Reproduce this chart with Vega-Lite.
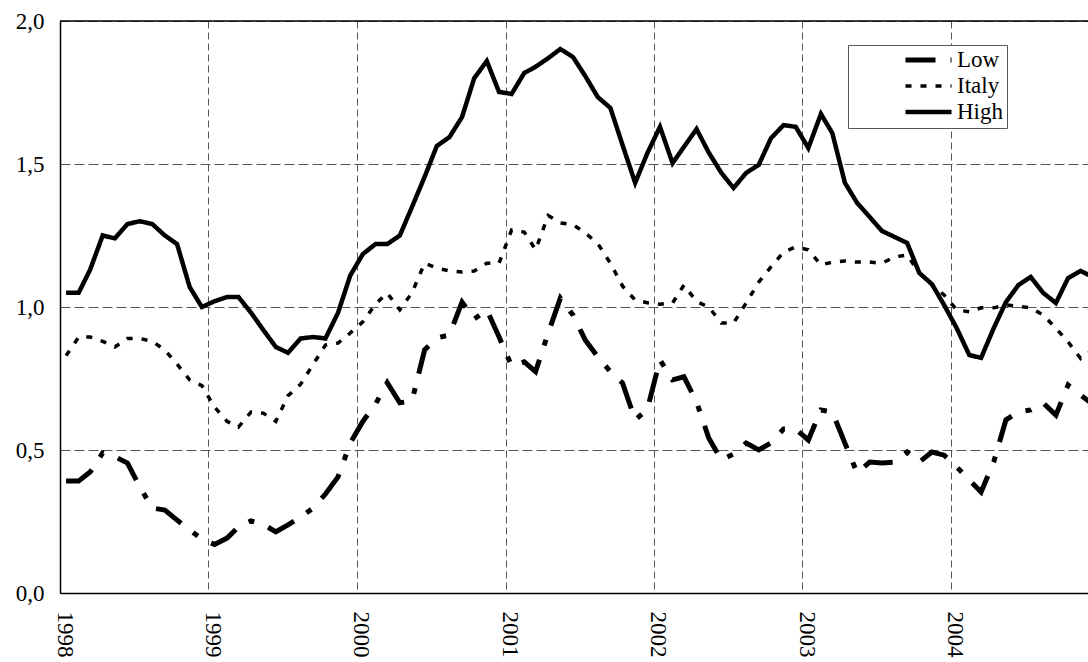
{
  "$schema": "https://vega.github.io/schema/vega-lite/v6.json",
  "width": 1028,
  "height": 572,
  "autosize": {"type": "none"},
  "padding": {"left": 60, "top": 21, "right": 0, "bottom": 69},
  "background": "white",
  "config": {
    "font": "Liberation Serif, Times New Roman, serif",
    "view": {"stroke": null},
    "axis": {"labelFont": "Liberation Serif, Times New Roman, serif", "labelFontSize": 23, "labelColor": "black"},
    "legend": {"labelFont": "Liberation Serif, Times New Roman, serif", "labelFontSize": 23, "labelColor": "black"}
  },
  "data": {
    "values": [
      {"d": "1998-01-16T00:00", "s": "Low", "v": 0.392},
      {"d": "1998-02-16T00:00", "s": "Low", "v": 0.392},
      {"d": "1998-03-16T00:00", "s": "Low", "v": 0.423},
      {"d": "1998-04-16T00:00", "s": "Low", "v": 0.49},
      {"d": "1998-05-16T00:00", "s": "Low", "v": 0.477},
      {"d": "1998-06-16T00:00", "s": "Low", "v": 0.454},
      {"d": "1998-07-16T00:00", "s": "Low", "v": 0.372},
      {"d": "1998-08-16T00:00", "s": "Low", "v": 0.297},
      {"d": "1998-09-16T00:00", "s": "Low", "v": 0.29},
      {"d": "1998-10-16T00:00", "s": "Low", "v": 0.255},
      {"d": "1998-11-16T00:00", "s": "Low", "v": 0.22},
      {"d": "1998-12-16T00:00", "s": "Low", "v": 0.189},
      {"d": "1999-01-16T00:00", "s": "Low", "v": 0.17},
      {"d": "1999-02-16T00:00", "s": "Low", "v": 0.192},
      {"d": "1999-03-16T00:00", "s": "Low", "v": 0.231},
      {"d": "1999-04-16T00:00", "s": "Low", "v": 0.252},
      {"d": "1999-05-16T00:00", "s": "Low", "v": 0.24},
      {"d": "1999-06-16T00:00", "s": "Low", "v": 0.214},
      {"d": "1999-07-16T00:00", "s": "Low", "v": 0.238},
      {"d": "1999-08-16T00:00", "s": "Low", "v": 0.266},
      {"d": "1999-09-16T00:00", "s": "Low", "v": 0.297},
      {"d": "1999-10-16T00:00", "s": "Low", "v": 0.346},
      {"d": "1999-11-16T00:00", "s": "Low", "v": 0.406},
      {"d": "1999-12-16T00:00", "s": "Low", "v": 0.524},
      {"d": "2000-01-16T00:00", "s": "Low", "v": 0.6},
      {"d": "2000-02-16T00:00", "s": "Low", "v": 0.66},
      {"d": "2000-03-16T00:00", "s": "Low", "v": 0.735},
      {"d": "2000-04-16T00:00", "s": "Low", "v": 0.665},
      {"d": "2000-05-16T00:00", "s": "Low", "v": 0.672},
      {"d": "2000-06-16T00:00", "s": "Low", "v": 0.85},
      {"d": "2000-07-16T00:00", "s": "Low", "v": 0.892},
      {"d": "2000-08-16T00:00", "s": "Low", "v": 0.902},
      {"d": "2000-09-16T00:00", "s": "Low", "v": 1.017},
      {"d": "2000-10-16T00:00", "s": "Low", "v": 0.958},
      {"d": "2000-11-16T00:00", "s": "Low", "v": 0.99},
      {"d": "2000-12-16T00:00", "s": "Low", "v": 0.896},
      {"d": "2001-01-16T00:00", "s": "Low", "v": 0.794},
      {"d": "2001-02-16T00:00", "s": "Low", "v": 0.808},
      {"d": "2001-03-16T00:00", "s": "Low", "v": 0.774},
      {"d": "2001-04-16T00:00", "s": "Low", "v": 0.909},
      {"d": "2001-05-16T00:00", "s": "Low", "v": 1.031},
      {"d": "2001-06-16T00:00", "s": "Low", "v": 0.972},
      {"d": "2001-07-16T00:00", "s": "Low", "v": 0.885},
      {"d": "2001-08-16T00:00", "s": "Low", "v": 0.826},
      {"d": "2001-09-16T00:00", "s": "Low", "v": 0.774},
      {"d": "2001-10-16T00:00", "s": "Low", "v": 0.734},
      {"d": "2001-11-16T00:00", "s": "Low", "v": 0.605},
      {"d": "2001-12-16T00:00", "s": "Low", "v": 0.643},
      {"d": "2002-01-16T00:00", "s": "Low", "v": 0.815},
      {"d": "2002-02-16T00:00", "s": "Low", "v": 0.745},
      {"d": "2002-03-16T00:00", "s": "Low", "v": 0.756},
      {"d": "2002-04-16T00:00", "s": "Low", "v": 0.668},
      {"d": "2002-05-16T00:00", "s": "Low", "v": 0.542},
      {"d": "2002-06-16T00:00", "s": "Low", "v": 0.465},
      {"d": "2002-07-16T00:00", "s": "Low", "v": 0.486},
      {"d": "2002-08-16T00:00", "s": "Low", "v": 0.524},
      {"d": "2002-09-16T00:00", "s": "Low", "v": 0.5},
      {"d": "2002-10-16T00:00", "s": "Low", "v": 0.525},
      {"d": "2002-11-16T00:00", "s": "Low", "v": 0.573},
      {"d": "2002-12-16T00:00", "s": "Low", "v": 0.573},
      {"d": "2003-01-16T00:00", "s": "Low", "v": 0.535},
      {"d": "2003-02-16T00:00", "s": "Low", "v": 0.64},
      {"d": "2003-03-16T00:00", "s": "Low", "v": 0.633},
      {"d": "2003-04-16T00:00", "s": "Low", "v": 0.524},
      {"d": "2003-05-16T00:00", "s": "Low", "v": 0.42},
      {"d": "2003-06-16T00:00", "s": "Low", "v": 0.458},
      {"d": "2003-07-16T00:00", "s": "Low", "v": 0.455},
      {"d": "2003-08-16T00:00", "s": "Low", "v": 0.458},
      {"d": "2003-09-16T00:00", "s": "Low", "v": 0.493},
      {"d": "2003-10-16T00:00", "s": "Low", "v": 0.458},
      {"d": "2003-11-16T00:00", "s": "Low", "v": 0.493},
      {"d": "2003-12-16T00:00", "s": "Low", "v": 0.482},
      {"d": "2004-01-16T00:00", "s": "Low", "v": 0.441},
      {"d": "2004-02-16T00:00", "s": "Low", "v": 0.395},
      {"d": "2004-03-16T00:00", "s": "Low", "v": 0.353},
      {"d": "2004-04-16T00:00", "s": "Low", "v": 0.458},
      {"d": "2004-05-16T00:00", "s": "Low", "v": 0.605},
      {"d": "2004-06-16T00:00", "s": "Low", "v": 0.633},
      {"d": "2004-07-16T00:00", "s": "Low", "v": 0.64},
      {"d": "2004-08-16T00:00", "s": "Low", "v": 0.664},
      {"d": "2004-09-16T00:00", "s": "Low", "v": 0.622},
      {"d": "2004-10-16T00:00", "s": "Low", "v": 0.727},
      {"d": "2004-11-16T00:00", "s": "Low", "v": 0.692},
      {"d": "2004-12-16T00:00", "s": "Low", "v": 0.66},
      {"d": "1998-01-16T00:00", "s": "Italy", "v": 0.83},
      {"d": "1998-02-16T00:00", "s": "Italy", "v": 0.895},
      {"d": "1998-03-16T00:00", "s": "Italy", "v": 0.895},
      {"d": "1998-04-16T00:00", "s": "Italy", "v": 0.88},
      {"d": "1998-05-16T00:00", "s": "Italy", "v": 0.86},
      {"d": "1998-06-16T00:00", "s": "Italy", "v": 0.89},
      {"d": "1998-07-16T00:00", "s": "Italy", "v": 0.89},
      {"d": "1998-08-16T00:00", "s": "Italy", "v": 0.88},
      {"d": "1998-09-16T00:00", "s": "Italy", "v": 0.85},
      {"d": "1998-10-16T00:00", "s": "Italy", "v": 0.8},
      {"d": "1998-11-16T00:00", "s": "Italy", "v": 0.745},
      {"d": "1998-12-16T00:00", "s": "Italy", "v": 0.725},
      {"d": "1999-01-16T00:00", "s": "Italy", "v": 0.65},
      {"d": "1999-02-16T00:00", "s": "Italy", "v": 0.6},
      {"d": "1999-03-16T00:00", "s": "Italy", "v": 0.58},
      {"d": "1999-04-16T00:00", "s": "Italy", "v": 0.633},
      {"d": "1999-05-16T00:00", "s": "Italy", "v": 0.629},
      {"d": "1999-06-16T00:00", "s": "Italy", "v": 0.6},
      {"d": "1999-07-16T00:00", "s": "Italy", "v": 0.69},
      {"d": "1999-08-16T00:00", "s": "Italy", "v": 0.73},
      {"d": "1999-09-16T00:00", "s": "Italy", "v": 0.8},
      {"d": "1999-10-16T00:00", "s": "Italy", "v": 0.867},
      {"d": "1999-11-16T00:00", "s": "Italy", "v": 0.874},
      {"d": "1999-12-16T00:00", "s": "Italy", "v": 0.909},
      {"d": "2000-01-16T00:00", "s": "Italy", "v": 0.948},
      {"d": "2000-02-16T00:00", "s": "Italy", "v": 1.01},
      {"d": "2000-03-16T00:00", "s": "Italy", "v": 1.049},
      {"d": "2000-04-16T00:00", "s": "Italy", "v": 0.99},
      {"d": "2000-05-16T00:00", "s": "Italy", "v": 1.05},
      {"d": "2000-06-16T00:00", "s": "Italy", "v": 1.153},
      {"d": "2000-07-16T00:00", "s": "Italy", "v": 1.136},
      {"d": "2000-08-16T00:00", "s": "Italy", "v": 1.126},
      {"d": "2000-09-16T00:00", "s": "Italy", "v": 1.122},
      {"d": "2000-10-16T00:00", "s": "Italy", "v": 1.126},
      {"d": "2000-11-16T00:00", "s": "Italy", "v": 1.153},
      {"d": "2000-12-16T00:00", "s": "Italy", "v": 1.153},
      {"d": "2001-01-16T00:00", "s": "Italy", "v": 1.269},
      {"d": "2001-02-16T00:00", "s": "Italy", "v": 1.262},
      {"d": "2001-03-16T00:00", "s": "Italy", "v": 1.2},
      {"d": "2001-04-16T00:00", "s": "Italy", "v": 1.32},
      {"d": "2001-05-16T00:00", "s": "Italy", "v": 1.294},
      {"d": "2001-06-16T00:00", "s": "Italy", "v": 1.288},
      {"d": "2001-07-16T00:00", "s": "Italy", "v": 1.259},
      {"d": "2001-08-16T00:00", "s": "Italy", "v": 1.222},
      {"d": "2001-09-16T00:00", "s": "Italy", "v": 1.153},
      {"d": "2001-10-16T00:00", "s": "Italy", "v": 1.073},
      {"d": "2001-11-16T00:00", "s": "Italy", "v": 1.024},
      {"d": "2001-12-16T00:00", "s": "Italy", "v": 1.015},
      {"d": "2002-01-16T00:00", "s": "Italy", "v": 1.01},
      {"d": "2002-02-16T00:00", "s": "Italy", "v": 1.014},
      {"d": "2002-03-16T00:00", "s": "Italy", "v": 1.077},
      {"d": "2002-04-16T00:00", "s": "Italy", "v": 1.019},
      {"d": "2002-05-16T00:00", "s": "Italy", "v": 1.0},
      {"d": "2002-06-16T00:00", "s": "Italy", "v": 0.944},
      {"d": "2002-07-16T00:00", "s": "Italy", "v": 0.944},
      {"d": "2002-08-16T00:00", "s": "Italy", "v": 1.014},
      {"d": "2002-09-16T00:00", "s": "Italy", "v": 1.087},
      {"d": "2002-10-16T00:00", "s": "Italy", "v": 1.14},
      {"d": "2002-11-16T00:00", "s": "Italy", "v": 1.192},
      {"d": "2002-12-16T00:00", "s": "Italy", "v": 1.21},
      {"d": "2003-01-16T00:00", "s": "Italy", "v": 1.2},
      {"d": "2003-02-16T00:00", "s": "Italy", "v": 1.147},
      {"d": "2003-03-16T00:00", "s": "Italy", "v": 1.157},
      {"d": "2003-04-16T00:00", "s": "Italy", "v": 1.161},
      {"d": "2003-05-16T00:00", "s": "Italy", "v": 1.157},
      {"d": "2003-06-16T00:00", "s": "Italy", "v": 1.157},
      {"d": "2003-07-16T00:00", "s": "Italy", "v": 1.153},
      {"d": "2003-08-16T00:00", "s": "Italy", "v": 1.175},
      {"d": "2003-09-16T00:00", "s": "Italy", "v": 1.182},
      {"d": "2003-10-16T00:00", "s": "Italy", "v": 1.119},
      {"d": "2003-11-16T00:00", "s": "Italy", "v": 1.077},
      {"d": "2003-12-16T00:00", "s": "Italy", "v": 1.042},
      {"d": "2004-01-16T00:00", "s": "Italy", "v": 0.99},
      {"d": "2004-02-16T00:00", "s": "Italy", "v": 0.983},
      {"d": "2004-03-16T00:00", "s": "Italy", "v": 0.997},
      {"d": "2004-04-16T00:00", "s": "Italy", "v": 0.997},
      {"d": "2004-05-16T00:00", "s": "Italy", "v": 1.007},
      {"d": "2004-06-16T00:00", "s": "Italy", "v": 1.003},
      {"d": "2004-07-16T00:00", "s": "Italy", "v": 0.997},
      {"d": "2004-08-16T00:00", "s": "Italy", "v": 0.972},
      {"d": "2004-09-16T00:00", "s": "Italy", "v": 0.926},
      {"d": "2004-10-16T00:00", "s": "Italy", "v": 0.878},
      {"d": "2004-11-16T00:00", "s": "Italy", "v": 0.82},
      {"d": "2004-12-16T00:00", "s": "Italy", "v": 0.85},
      {"d": "1998-01-16T00:00", "s": "High", "v": 1.05},
      {"d": "1998-02-16T00:00", "s": "High", "v": 1.05},
      {"d": "1998-03-16T00:00", "s": "High", "v": 1.13},
      {"d": "1998-04-16T00:00", "s": "High", "v": 1.25},
      {"d": "1998-05-16T00:00", "s": "High", "v": 1.24},
      {"d": "1998-06-16T00:00", "s": "High", "v": 1.29},
      {"d": "1998-07-16T00:00", "s": "High", "v": 1.3},
      {"d": "1998-08-16T00:00", "s": "High", "v": 1.29},
      {"d": "1998-09-16T00:00", "s": "High", "v": 1.25},
      {"d": "1998-10-16T00:00", "s": "High", "v": 1.22},
      {"d": "1998-11-16T00:00", "s": "High", "v": 1.07},
      {"d": "1998-12-16T00:00", "s": "High", "v": 1.0},
      {"d": "1999-01-16T00:00", "s": "High", "v": 1.02},
      {"d": "1999-02-16T00:00", "s": "High", "v": 1.035},
      {"d": "1999-03-16T00:00", "s": "High", "v": 1.035},
      {"d": "1999-04-16T00:00", "s": "High", "v": 0.98},
      {"d": "1999-05-16T00:00", "s": "High", "v": 0.92},
      {"d": "1999-06-16T00:00", "s": "High", "v": 0.86},
      {"d": "1999-07-16T00:00", "s": "High", "v": 0.84},
      {"d": "1999-08-16T00:00", "s": "High", "v": 0.89},
      {"d": "1999-09-16T00:00", "s": "High", "v": 0.895},
      {"d": "1999-10-16T00:00", "s": "High", "v": 0.89},
      {"d": "1999-11-16T00:00", "s": "High", "v": 0.98},
      {"d": "1999-12-16T00:00", "s": "High", "v": 1.11},
      {"d": "2000-01-16T00:00", "s": "High", "v": 1.185},
      {"d": "2000-02-16T00:00", "s": "High", "v": 1.22},
      {"d": "2000-03-16T00:00", "s": "High", "v": 1.22},
      {"d": "2000-04-16T00:00", "s": "High", "v": 1.25},
      {"d": "2000-05-16T00:00", "s": "High", "v": 1.35},
      {"d": "2000-06-16T00:00", "s": "High", "v": 1.455},
      {"d": "2000-07-16T00:00", "s": "High", "v": 1.563},
      {"d": "2000-08-16T00:00", "s": "High", "v": 1.594},
      {"d": "2000-09-16T00:00", "s": "High", "v": 1.664},
      {"d": "2000-10-16T00:00", "s": "High", "v": 1.8},
      {"d": "2000-11-16T00:00", "s": "High", "v": 1.86},
      {"d": "2000-12-16T00:00", "s": "High", "v": 1.752},
      {"d": "2001-01-16T00:00", "s": "High", "v": 1.745},
      {"d": "2001-02-16T00:00", "s": "High", "v": 1.818},
      {"d": "2001-03-16T00:00", "s": "High", "v": 1.84},
      {"d": "2001-04-16T00:00", "s": "High", "v": 1.87},
      {"d": "2001-05-16T00:00", "s": "High", "v": 1.902},
      {"d": "2001-06-16T00:00", "s": "High", "v": 1.874},
      {"d": "2001-07-16T00:00", "s": "High", "v": 1.808},
      {"d": "2001-08-16T00:00", "s": "High", "v": 1.734},
      {"d": "2001-09-16T00:00", "s": "High", "v": 1.696},
      {"d": "2001-10-16T00:00", "s": "High", "v": 1.566},
      {"d": "2001-11-16T00:00", "s": "High", "v": 1.434},
      {"d": "2001-12-16T00:00", "s": "High", "v": 1.538},
      {"d": "2002-01-16T00:00", "s": "High", "v": 1.63},
      {"d": "2002-02-16T00:00", "s": "High", "v": 1.503},
      {"d": "2002-03-16T00:00", "s": "High", "v": 1.56},
      {"d": "2002-04-16T00:00", "s": "High", "v": 1.622},
      {"d": "2002-05-16T00:00", "s": "High", "v": 1.54},
      {"d": "2002-06-16T00:00", "s": "High", "v": 1.469},
      {"d": "2002-07-16T00:00", "s": "High", "v": 1.416},
      {"d": "2002-08-16T00:00", "s": "High", "v": 1.469},
      {"d": "2002-09-16T00:00", "s": "High", "v": 1.497},
      {"d": "2002-10-16T00:00", "s": "High", "v": 1.59},
      {"d": "2002-11-16T00:00", "s": "High", "v": 1.636},
      {"d": "2002-12-16T00:00", "s": "High", "v": 1.63},
      {"d": "2003-01-16T00:00", "s": "High", "v": 1.556},
      {"d": "2003-02-16T00:00", "s": "High", "v": 1.675},
      {"d": "2003-03-16T00:00", "s": "High", "v": 1.608},
      {"d": "2003-04-16T00:00", "s": "High", "v": 1.434},
      {"d": "2003-05-16T00:00", "s": "High", "v": 1.364},
      {"d": "2003-06-16T00:00", "s": "High", "v": 1.315},
      {"d": "2003-07-16T00:00", "s": "High", "v": 1.266},
      {"d": "2003-08-16T00:00", "s": "High", "v": 1.245},
      {"d": "2003-09-16T00:00", "s": "High", "v": 1.224},
      {"d": "2003-10-16T00:00", "s": "High", "v": 1.119},
      {"d": "2003-11-16T00:00", "s": "High", "v": 1.08},
      {"d": "2003-12-16T00:00", "s": "High", "v": 1.007},
      {"d": "2004-01-16T00:00", "s": "High", "v": 0.926},
      {"d": "2004-02-16T00:00", "s": "High", "v": 0.832},
      {"d": "2004-03-16T00:00", "s": "High", "v": 0.822},
      {"d": "2004-04-16T00:00", "s": "High", "v": 0.926},
      {"d": "2004-05-16T00:00", "s": "High", "v": 1.017},
      {"d": "2004-06-16T00:00", "s": "High", "v": 1.077},
      {"d": "2004-07-16T00:00", "s": "High", "v": 1.105},
      {"d": "2004-08-16T00:00", "s": "High", "v": 1.049},
      {"d": "2004-09-16T00:00", "s": "High", "v": 1.014},
      {"d": "2004-10-16T00:00", "s": "High", "v": 1.101},
      {"d": "2004-11-16T00:00", "s": "High", "v": 1.126},
      {"d": "2004-12-16T00:00", "s": "High", "v": 1.105}
    ]
  },
  "layer": [
    {
      "mark": {"type": "line", "clip": true, "color": "black", "strokeCap": "butt", "strokeJoin": "miter"},
      "encoding": {
        "x": {
          "field": "d",
          "type": "temporal",
          "scale": {"domain": [{"year": 1998, "month": 1, "date": 1}, {"year": 2004, "month": 12, "date": 4}]},
          "axis": {
            "title": null,
            "format": "%Y",
            "tickCount": {"interval": "year", "step": 1},
            "labelAngle": 90,
            "labelOffset": 4,
            "labelPadding": 18,
            "ticks": false,
            "domainColor": "black",
            "domainWidth": 1.5,
            "grid": true,
            "gridColor": "#555555",
            "gridDash": [7, 4],
            "gridWidth": 1
          }
        },
        "y": {
          "field": "v",
          "type": "quantitative",
          "scale": {"domain": [0, 2], "nice": false},
          "axis": {
            "title": null,
            "values": [0, 0.5, 1, 1.5, 2],
            "labelExpr": "replace(format(datum.value, '.1f'), '.', ',')",
            "labelPadding": 16,
            "ticks": false,
            "domainColor": "black",
            "domainWidth": 1.5,
            "grid": true,
            "gridColor": "#555555",
            "gridDash": [10, 4],
            "gridWidth": 1
          }
        },
        "strokeDash": {
          "field": "s",
          "type": "nominal",
          "scale": {"domain": ["Low", "Italy", "High"], "range": [[30, 15, 6, 15], [6, 9], [1, 0]]},
          "legend": {
            "title": null,
            "orient": "none",
            "legendX": 788,
            "legendY": 24,
            "symbolType": "stroke",
            "symbolSize": 2116,
            "symbolStrokeColor": "black",
            "symbolOffset": 51,
            "labelOffset": 3,
            "padding": 4,
            "rowPadding": 3,
            "clipHeight": 22,
            "strokeColor": "#555555",
            "fillColor": "white"
          }
        },
        "strokeWidth": {
          "field": "s",
          "type": "nominal",
          "scale": {"type": "ordinal", "domain": ["Low", "Italy", "High"], "range": [5, 3.5, 4.5]},
          "legend": {
            "title": null,
            "orient": "none",
            "legendX": 788,
            "legendY": 24,
            "symbolType": "stroke",
            "symbolSize": 2116,
            "symbolStrokeColor": "black",
            "symbolOffset": 51,
            "labelOffset": 3,
            "padding": 4,
            "rowPadding": 3,
            "clipHeight": 22,
            "strokeColor": "#555555",
            "fillColor": "white"
          }
        }
      }
    },
    {
      "data": {"values": [{}]},
      "mark": {"type": "rule", "color": "black", "strokeWidth": 1.5},
      "encoding": {"y": {"datum": 2}}
    }
  ]
}
